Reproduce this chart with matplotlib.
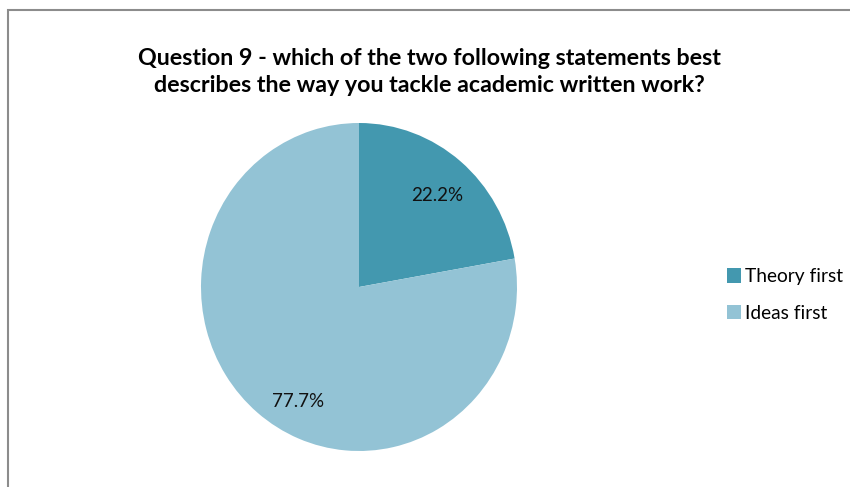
import matplotlib
matplotlib.use("Agg")
import matplotlib.pyplot as plt
from matplotlib.patches import Rectangle, Patch
import numpy as np

# Data
categories = ["Theory first", "Ideas first"]
values = [22.2, 77.7]
colors = ["#4398AF", "#93C3D5"]
title = "Question 9 - which of the two following statements best\ndescribes the way you tackle academic written work?"

plt.rcParams['font.family'] = ['Lato', 'DejaVu Sans']

W, H = 850, 487
fig = plt.figure(figsize=(W / 100, H / 100), dpi=100)

# outer chart frame (cropped at right/bottom)
fig.patches.append(Rectangle((7.5 / W, -0.1), 1.2, (H - 10) / H + 0.1,
                             transform=fig.transFigure, fill=False,
                             edgecolor="#8C8C8C", linewidth=1.5))

# pie axes (slightly elliptical like the reference)
cx, cy, rx, ry = 359, 287, 158, 164
ax = fig.add_axes([(cx - rx) / W, (H - cy - ry) / H, 2 * rx / W, 2 * ry / H])
wedges, texts, autotexts = ax.pie(values, colors=colors, startangle=90, counterclock=False,
                                  autopct="%1.1f%%", pctdistance=0.76,
                                  wedgeprops=dict(linewidth=0), textprops=dict(fontsize=14, color="#111111"))
ax.set_aspect('auto')
ax.set_xlim(-1, 1)
ax.set_ylim(-1, 1)
ax.axis('off')

# label texts show raw values; label positions nudged like the original
angle_shift = [-1.5, 11]
label_r = [0.745, 0.80]
for w, t, v, sh, rr in zip(wedges, autotexts, values, angle_shift, label_r):
    t.set_text(f"{v}%")
    mid = (w.theta1 + w.theta2) / 2 + sh
    t.set_position((rr * np.cos(np.radians(mid)), rr * np.sin(np.radians(mid))))
    t.set_ha('center'); t.set_va('center')

# title
tt = fig.text(429.5 / W, 1 - 91.5 / H, title, ha='center', va='baseline', fontsize=17,
              fontweight='bold', color="#000000", linespacing=1.32)

# legend
handles = [Patch(facecolor=c, edgecolor='none') for c in colors]
leg = fig.legend(handles, categories, loc='center left', bbox_to_anchor=(719 / W, 1 - 295 / H),
                 frameon=False, fontsize=14, handlelength=0.75, handleheight=0.75,
                 handletextpad=0.2, labelspacing=1.0, borderaxespad=0)

# fit font sizes to the measured widths
fig.canvas.draw()
r = fig.canvas.get_renderer()
def fit(t, target):
    w = t.get_window_extent(r).width
    t.set_fontsize(t.get_fontsize() * target / w)

line1 = title.split("\n")[0]
tmp = fig.text(0, 0, line1, fontsize=17, fontweight='bold')
w1 = tmp.get_window_extent(r).width
tmp.remove()
tt.set_fontsize(17 * 583 / w1)
fit(autotexts[0], 52)
autotexts[1].set_fontsize(autotexts[0].get_fontsize())
fit(leg.get_texts()[0], 98)
for t in leg.get_texts():
    t.set_fontsize(leg.get_texts()[0].get_fontsize())

fig.savefig("out.png", dpi=100, facecolor="white")
